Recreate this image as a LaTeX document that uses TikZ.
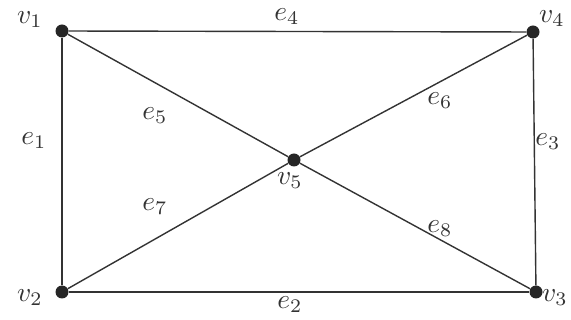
\documentclass[tikz,border=0pt]{standalone}
\begin{document}
\begin{tikzpicture}[x=1pt,y=-1pt,
  vert/.style={circle,fill=black!85,inner sep=0pt,minimum size=13pt},
  edge/.style={draw=black!80,line width=1.4pt},
  lab/.style={inner sep=0pt,scale=2.75,transform shape,text=black!80}]
\useasboundingbox (0,0) rectangle (571,320);
\node[vert] (v1) at (62,31) {};
\node[vert] (v4) at (533,32) {};
\node[vert] (v2) at (62,292) {};
\node[vert] (v3) at (536,292) {};
\node[vert] (v5) at (294,160) {};
\draw[edge] (v1) -- (v4);
\draw[edge] (v1) -- (v2);
\draw[edge] (v4) -- (v3);
\draw[edge] (v2) -- (v3);
\draw[edge] (v1) -- (v5);
\draw[edge] (v5) -- (v3);
\draw[edge] (v2) -- (v5);
\draw[edge] (v5) -- (v4);
\node[lab] (l1) at (30,20) {$v_1$};
\node[lab] (l4) at (552,19) {$v_4$};
\node[lab] (l2) at (30,298) {$v_2$};
\node[lab] (l3) at (555,298) {$v_3$};
\node[lab] (l5) at (290,181) {$v_5$};
\node[lab] (e4) at (287,17) {$e_4$};
\node[lab] (e1) at (34,141) {$e_1$};
\node[lab] (e3) at (548,142) {$e_3$};
\node[lab] (e2) at (290,305) {$e_2$};
\node[lab] (e5) at (155,116) {$e_5$};
\node[lab] (e6) at (440,101) {$e_6$};
\node[lab] (e7) at (155,207) {$e_7$};
\node[lab] (e8) at (440,229) {$e_8$};
\end{tikzpicture}
\end{document}
